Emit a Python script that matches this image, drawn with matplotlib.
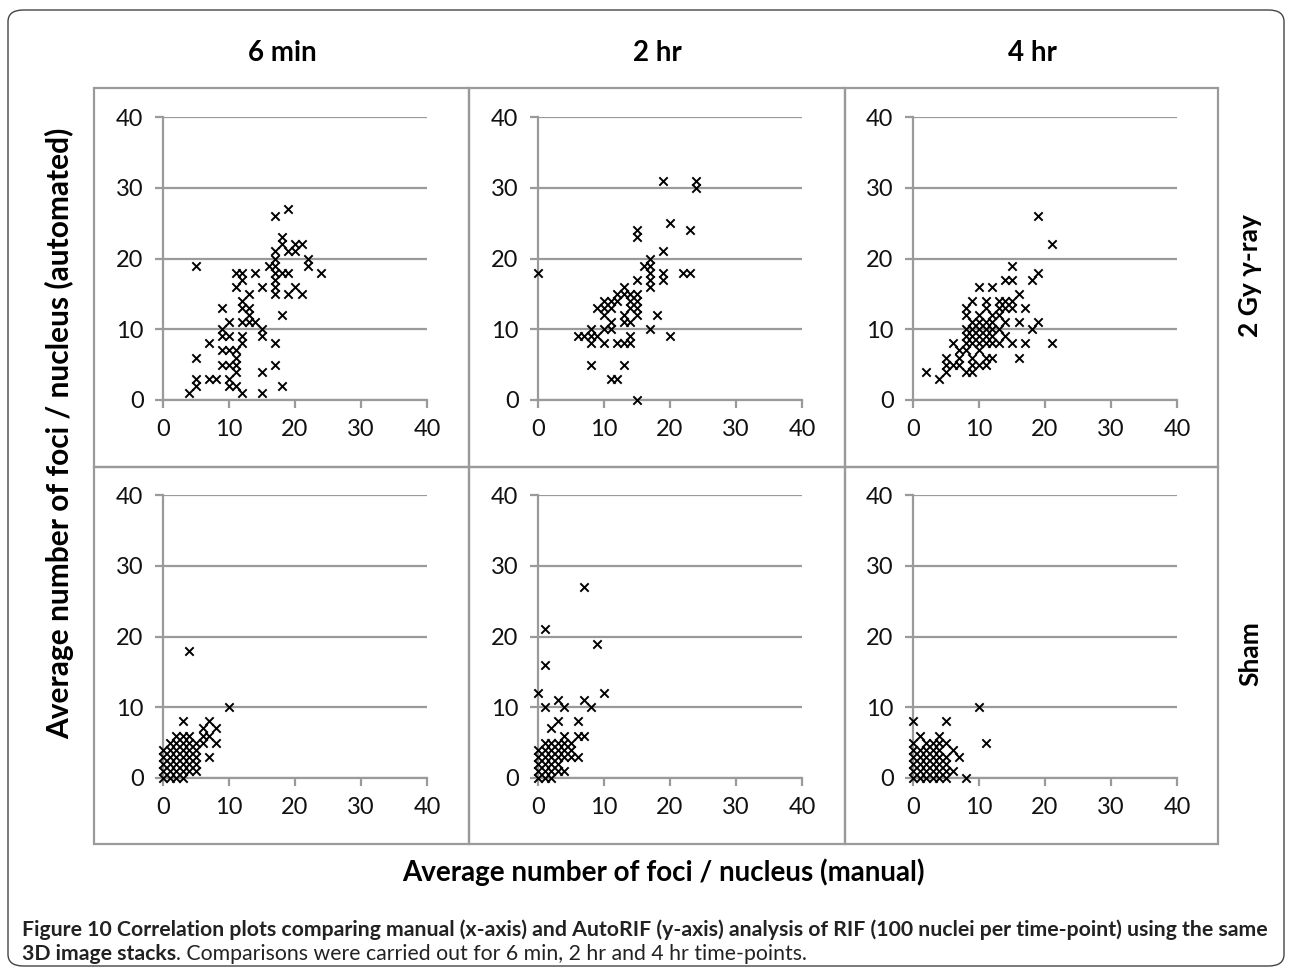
import matplotlib
matplotlib.use("Agg")
import matplotlib.pyplot as plt
from matplotlib.patches import FancyBboxPatch, Rectangle

plt.rcParams['font.family'] = ['Lato', 'DejaVu Sans']

# --- data (manual x, automated y) ---
col_titles = ["6 min", "2 hr", "4 hr"]
row_titles = ["2 Gy \u03b3-ray", "Sham"]
ticks = [0, 10, 20, 30, 40]

# 2 Gy, 6 min
x_gy_6min = [19, 17, 18, 18, 20, 21, 20, 19, 17, 17, 17, 17, 17, 17, 17, 16, 22, 22, 24, 18,
             19, 20, 21, 19, 5, 11, 12, 14, 12, 11, 13, 15, 12, 12, 13, 13, 9, 18, 10, 12,
             13, 14, 9, 9, 10, 12, 12, 15, 15, 7, 17, 9, 10, 11, 11, 5, 9, 10, 11, 17,
             11, 15, 5, 5, 7, 8, 10, 10, 11, 12, 15, 18, 4]
y_gy_6min = [27, 26, 23, 22, 22, 22, 21, 21, 21, 20, 19, 18, 17, 16, 15, 19, 20, 19, 18, 18,
             18, 16, 15, 15, 19, 18, 18, 18, 17, 16, 15, 16, 14, 13, 13, 12, 13, 12, 11, 11,
             11, 11, 10, 9, 9, 9, 8, 10, 9, 8, 8, 7, 7, 7, 6, 6, 5, 5, 5, 5,
             4, 4, 3, 2, 3, 3, 3, 2, 2, 1, 1, 2, 1]

# 2 Gy, 2 hr
x_gy_2hr = [0, 19, 24, 24, 20, 23, 15, 15, 19, 17, 16, 17, 17, 19, 19, 22, 23, 15, 17, 17,
            13, 12, 13, 14, 15, 11, 12, 10, 14, 15, 9, 10, 11, 14, 15, 13, 15, 18, 10, 11,
            13, 14, 10, 11, 17, 8, 6, 7, 8, 9, 14, 20, 8, 10, 12, 13, 14, 8, 13, 11,
            12, 15]
y_gy_2hr = [18, 31, 31, 30, 25, 24, 24, 23, 21, 20, 19, 19, 18, 18, 17, 18, 18, 17, 17, 16,
            16, 15, 15, 15, 15, 14, 14, 14, 14, 14, 13, 13, 13, 13, 13, 12, 12, 12, 12, 11,
            11, 11, 10, 10, 10, 10, 9, 9, 9, 9, 9, 9, 8, 8, 8, 8, 8, 5, 5, 3,
            3, 0]

# 2 Gy, 4 hr
x_gy_4hr = [19, 21, 15, 19, 18, 14, 15, 10, 12, 16, 9, 11, 13, 14, 15, 8, 8, 11, 13, 14,
            15, 17, 12, 13, 9, 10, 11, 14, 16, 19, 8, 9, 12, 13, 18, 8, 10, 11, 14, 6,
            9, 11, 12, 13, 15, 17, 21, 7, 8, 10, 7, 9, 11, 12, 16, 5, 5, 6, 9, 10,
            8, 5, 2, 4, 9, 10, 12, 10, 11, 9, 12, 8, 10, 7, 11]
y_gy_4hr = [26, 22, 19, 18, 17, 17, 17, 16, 16, 15, 14, 14, 14, 14, 14, 13, 12, 13, 13, 13,
            13, 13, 12, 12, 11, 11, 11, 11, 11, 11, 10, 10, 10, 10, 10, 9, 9, 9, 9, 8,
            8, 8, 8, 8, 8, 8, 8, 7, 7, 7, 6, 6, 6, 6, 6, 6, 5, 5, 5, 5,
            4, 4, 4, 3, 4, 12, 11, 10, 10, 9, 9, 8, 8, 5, 5]

# Sham, 6 min
x_sham_6min = [4, 10, 3, 7, 6, 8, 2, 3, 4, 6, 7, 8, 7, 5, 5, 6,
               0, 0, 0, 0, 1, 1, 1, 1, 2, 2, 2, 2, 2, 3, 3, 3, 3, 3, 4, 4,
               4, 4, 5, 5, 5, 1, 3, 4, 0, 1, 2]
y_sham_6min = [18, 10, 8, 8, 7, 7, 6, 6, 6, 6, 6, 5, 3, 5, 4, 5,
               0, 1, 2, 3, 1, 2, 3, 4, 1, 2, 3, 4, 5, 1, 2, 3, 4, 5, 2, 3,
               4, 5, 1, 2, 3, 0, 0, 1, 4, 5, 0]

# Sham, 2 hr
x_sham_2hr = [7, 1, 9, 1, 0, 10, 1, 3, 4, 7, 8, 3, 2, 6, 4, 6, 7, 5, 6, 4, 5,
              0, 0, 0, 0, 0, 1, 1, 1, 1, 1, 1, 2, 2, 2, 2, 2, 3, 3, 3, 3,
              4, 4, 4, 3, 2, 5]
y_sham_2hr = [27, 21, 19, 16, 12, 12, 10, 11, 10, 11, 10, 8, 7, 8, 6, 6, 6, 4, 3, 1, 3,
              0, 1, 2, 3, 4, 0, 1, 2, 3, 4, 5, 1, 2, 3, 4, 5, 2, 3, 4, 5,
              3, 4, 5, 1, 0, 5]

# Sham, 4 hr
x_sham_4hr = [10, 0, 5, 11, 1, 4, 0, 0, 2, 3, 4, 5, 6, 7, 8,
              0, 0, 0, 0, 1, 1, 1, 1, 1, 2, 2, 2, 2, 2, 3, 3, 3, 3, 3, 4,
              4, 4, 4, 4, 5, 5, 5, 5, 6]
y_sham_4hr = [10, 8, 8, 5, 6, 6, 5, 4, 5, 5, 5, 5, 4, 3, 0,
              0, 1, 2, 3, 0, 1, 2, 3, 4, 0, 1, 2, 3, 4, 0, 1, 2, 3, 4, 0,
              1, 2, 3, 4, 0, 1, 2, 3, 1]

panels = [[(x_gy_6min, y_gy_6min), (x_gy_2hr, y_gy_2hr), (x_gy_4hr, y_gy_4hr)],
          [(x_sham_6min, y_sham_6min), (x_sham_2hr, y_sham_2hr), (x_sham_4hr, y_sham_4hr)]]

W, H = 1290, 975
fig = plt.figure(figsize=(W / 100, H / 100), dpi=100)


def fx(px):
    return px / W


def fy(py):
    return 1 - py / H


grey = '#9a9a9a'

# outer rounded frame
frame = FancyBboxPatch((fx(8), fy(966)), fx(1276), 956 / H,
                       boxstyle="round,pad=0,rounding_size=0.012",
                       transform=fig.transFigure, fill=False,
                       edgecolor='#444444', linewidth=1.0)
fig.patches.append(frame)

# cell boxes
col_edges = [94, 469, 845, 1218]
row_edges = [88, 467, 844]
for r in range(2):
    for c in range(3):
        rect = Rectangle((fx(col_edges[c]), fy(row_edges[r + 1])),
                         fx(col_edges[c + 1] - col_edges[c]),
                         (row_edges[r + 1] - row_edges[r]) / H,
                         transform=fig.transFigure, fill=False,
                         edgecolor=grey, linewidth=1.6)
        fig.patches.append(rect)

axes_left = [163, 538, 913]
axes_top = [117, 495]
aw, ah = 264, 283

for r in range(2):
    for c in range(3):
        ax = fig.add_axes([fx(axes_left[c]), fy(axes_top[r] + ah), aw / W, ah / H])
        xs, ys = panels[r][c]
        ax.scatter(xs, ys, marker='x', s=36, color='black', linewidths=1.4,
                   zorder=3, clip_on=False)
        ax.set_xlim(0, 40)
        ax.set_ylim(0, 40)
        ax.set_xticks(ticks)
        ax.set_yticks(ticks)
        ax.yaxis.grid(True, color=grey, linewidth=1.6)
        ax.set_axisbelow(True)
        for s in ['top', 'right']:
            ax.spines[s].set_visible(False)
        for s in ['left', 'bottom']:
            ax.spines[s].set_color(grey)
            ax.spines[s].set_linewidth(1.6)
        ax.tick_params(axis='both', direction='out', length=6, width=1.6,
                       color=grey, labelsize=17, pad=8, labelcolor='#111111')
        ax.patch.set_alpha(0)

for c, t in enumerate(col_titles):
    fig.text(fx(axes_left[c] + aw / 2 - 13), fy(53), t, ha='center', va='center',
             fontsize=20, fontweight='bold')

for r, t in enumerate(row_titles):
    fig.text(fx(1250), fy(axes_top[r] + ah / 2 + 17), t, ha='center', va='center',
             rotation=90, fontsize=19, fontweight='bold')

fig.text(fx(663), fy(872), "Average number of foci / nucleus (manual)",
         ha='center', va='center', fontsize=20, fontweight='bold')
fig.text(fx(60), fy(433), "Average number of foci / nucleus (automated)",
         ha='center', va='center', rotation=90, fontsize=21.5, fontweight='bold')

# caption
cap_size = 15.3
fig.text(fx(22), fy(930),
         "Figure 10 Correlation plots comparing manual (x-axis) and AutoRIF (y-axis) "
         "analysis of RIF (100 nuclei per time-point) using the same",
         ha='left', va='center', fontsize=cap_size, fontweight='bold', color='#222222')
bold2 = fig.text(fx(22), fy(954), "3D image stacks", ha='left', va='center',
                 fontsize=cap_size, fontweight='bold', color='#222222')
renderer = fig.canvas.get_renderer()
bb = bold2.get_window_extent(renderer)
fig.text(bb.x1 / W, fy(954),
         ". Comparisons were carried out for 6 min, 2 hr and 4 hr time-points.",
         ha='left', va='center', fontsize=cap_size, color='#222222')

fig.savefig("out.png", dpi=100)
